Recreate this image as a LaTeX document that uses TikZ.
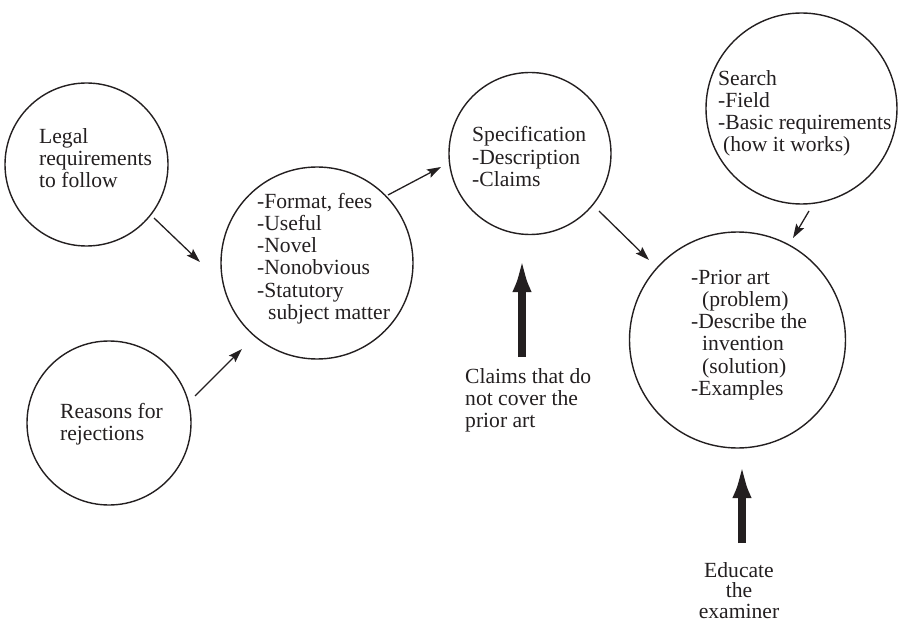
\documentclass[tikz,border=0pt]{standalone}
\usepackage{fontspec}
\setmainfont{Liberation Serif}
\usetikzlibrary{arrows.meta}
\definecolor{ink}{HTML}{231F20}
\begin{document}
\begin{tikzpicture}[x=1pt,y=-1pt,
  circ/.style={draw=ink, line width=1.4pt, circle, inner sep=0pt, minimum size=#1},
  txt/.style={anchor=base west, inner sep=0pt, align=left, text=ink,
    font=\fontsize{21.6}{22.3}\selectfont},
  thin/.style={draw=ink, line width=1.3pt, -{Stealth[length=14pt,width=9pt,inset=2.5pt]}},
  thick/.style={draw=ink, line width=8pt, -{Latex[length=35pt,width=19pt]}}]
\useasboundingbox (0,0) rectangle (898,623);
% circles
\node[circ=163pt] (legal)   at (86.5,164.5) {};
\node[circ=164pt] (reasons) at (109,423) {};
\node[circ=192pt] (mid)     at (317,263) {};
\node[circ=162pt] (spec)    at (530,153.5) {};
\node[circ=191pt] (search)  at (801.5,108.5) {};
\node[circ=216pt] (prior)   at (737.5,340) {};
% texts (anchored at the baseline of the last line)
\node[txt] (tlegal) at (39,187.6) {Legal\\requirements\\to follow};
\node[txt] (treasons) at (60,440.3) {Reasons for\\rejections};
\node[txt] (tmid) at (257,319.5) {-Format, fees\\-Useful\\-Novel\\-Nonobvious\\-Statutory\\\hspace*{11pt}subject matter};
\node[txt] (tspec) at (472,186.6) {Specification\\-Description\\-Claims};
\node[txt] (tsearch) at (718,152) {Search\\-Field\\-Basic requirements\\\hspace*{5pt}(how it works)};
\node[txt] (tprior) at (691,395.5) {-Prior art\\\hspace*{11pt}(problem)\\-Describe the\\\hspace*{11pt}invention\\\hspace*{11pt}(solution)\\-Examples};
\node[txt] (tclaims) at (465,427.6) {Claims that do\\not cover the\\prior art};
\node[txt, anchor=base, align=center, font=\fontsize{21.6}{20.8}\selectfont] (teducate) at (739,618.6) {Educate\\the\\examiner};
% arrow end points
\coordinate (a1s) at (154,218);  \coordinate (a1e) at (200,262);
\coordinate (a2s) at (195,396);  \coordinate (a2e) at (242,349);
\coordinate (a3s) at (388,195);  \coordinate (a3e) at (441,167);
\coordinate (a4s) at (599,211);  \coordinate (a4e) at (649,260);
\coordinate (a5s) at (809,211);  \coordinate (a5e) at (793,238);
\coordinate (b1s) at (522,357);  \coordinate (b1e) at (522,257);
\coordinate (b2s) at (742,543);  \coordinate (b2e) at (742,463);
% connectors
\draw[thin] (a1s) -- (a1e);
\draw[thin] (a2s) -- (a2e);
\draw[thin] (a3s) -- (a3e);
\draw[thin] (a4s) -- (a4e);
\draw[thin] (a5s) -- (a5e);
\draw[thick] (b1s) -- (b1e);
\draw[thick] (b2s) -- (b2e);
\end{tikzpicture}
\end{document}
